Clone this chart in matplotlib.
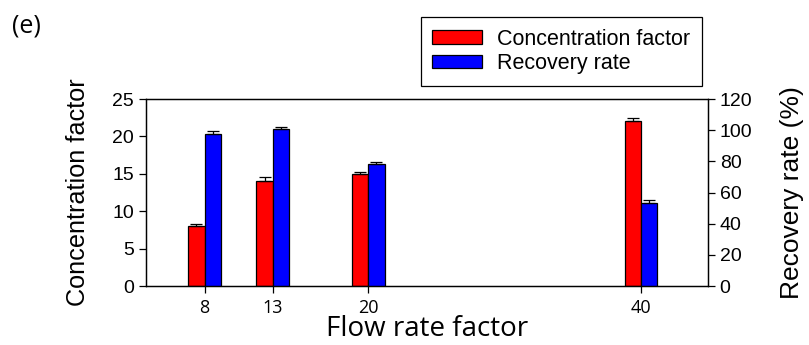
import numpy as np
import matplotlib.pyplot as plt

plt.rcParams['font.family'] = ['Liberation Sans', 'DejaVu Sans']

flow = [8, 13, 20, 40]
conc = [8.0, 14.1, 15.0, 22.0]
conc_err = [0.35, 0.45, 0.3, 0.45]
recovery = [97.4, 100.6, 78.3, 53.5]
recovery_err = [2.3, 1.6, 1.5, 1.7]

w = 1.2
x = np.array(flow, dtype=float)

fig = plt.figure(figsize=(8.09, 3.45), dpi=100)
ax = fig.add_axes([0.1805, 0.171, 0.6945, 0.542])
ax2 = ax.twinx()

ax.bar(x - w / 2, conc, w, color='#ff0000', edgecolor='black', linewidth=0.9,
       yerr=[np.zeros(4), conc_err], capsize=4, error_kw=dict(elinewidth=0.9, capthick=0.9))
ax2.bar(x + w / 2, recovery, w, color='#0000ff', edgecolor='black', linewidth=0.9,
        yerr=[np.zeros(4), recovery_err], capsize=4, error_kw=dict(elinewidth=0.9, capthick=0.9))

ax.set_xlim(3.7, 44.9)
ax.set_ylim(0, 25)
ax2.set_ylim(0, 120)
ax.set_xticks(flow)
ax.set_yticks([0, 5, 10, 15, 20, 25])
ax2.set_yticks([0, 20, 40, 60, 80, 100, 120])
for a in (ax, ax2):
    a.tick_params(labelsize=14, length=5, width=0.9)
    for s in a.spines.values():
        s.set_linewidth(0.9)
for t in ax.get_xticklabels():
    t.set_fontfamily('Open Sans')
    t.set_fontsize(13)
ax.tick_params(axis='x', pad=4)

ax.set_xlabel('Flow rate factor', fontsize=20, fontfamily='Open Sans', labelpad=-1)
ax.set_ylabel('Concentration factor', fontsize=18.2, labelpad=16)
ax2.set_ylabel('Recovery rate (%)', fontsize=19, labelpad=20)

h1 = plt.Rectangle((0, 0), 1, 1, facecolor='#ff0000', edgecolor='black', linewidth=0.9)
h2 = plt.Rectangle((0, 0), 1, 1, facecolor='#0000ff', edgecolor='black', linewidth=0.9)
leg = fig.legend([h1, h2], ['Concentration factor', 'Recovery rate'],
                 loc='upper right', bbox_to_anchor=(702 / 809, 1 - 17 / 345),
                 borderaxespad=0, fontsize=15.5, fancybox=False, framealpha=1,
                 edgecolor='black', handlelength=2.3, handleheight=0.6,
                 borderpad=0.55, labelspacing=0.15, handletextpad=0.7)
leg.get_frame().set_linewidth(0.9)

fig.text(12 / 809, 1 - 26 / 345, '(e)', fontsize=18, fontfamily='Open Sans',
         va='center', ha='left')

fig.savefig('out.png', dpi=100)
